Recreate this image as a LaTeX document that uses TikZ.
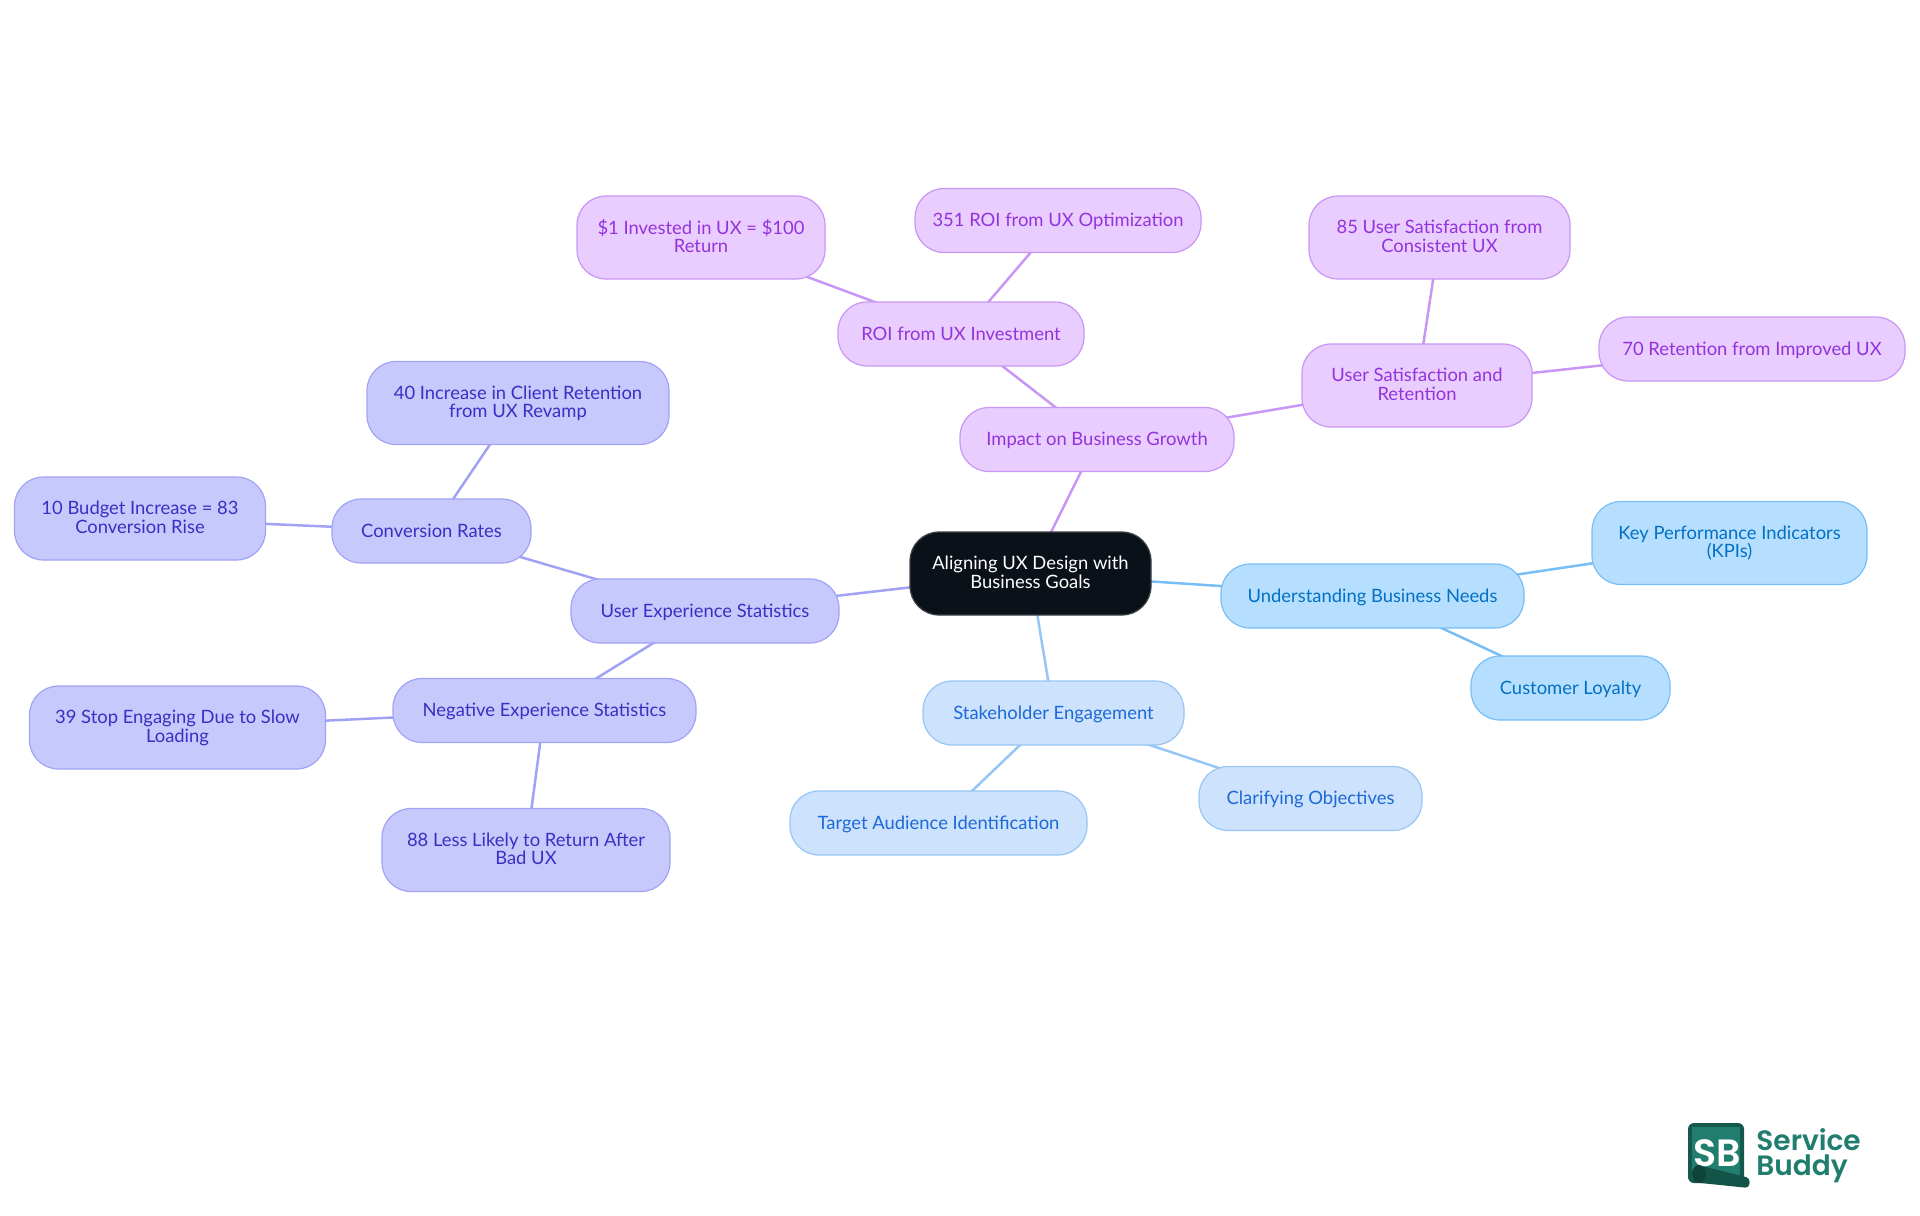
\documentclass[tikz,border=0pt]{standalone}
\usepackage{fontspec}
\setmainfont{Lato}
\newfontfamily\logofont{Poppins SemiBold}
\usepackage{xcolor}
\usetikzlibrary{backgrounds}
\definecolor{rootcolor}{RGB}{11, 17, 25}
\definecolor{statfill}{RGB}{199, 201, 253}
\definecolor{statline}{RGB}{160, 163, 245}
\definecolor{stattext}{RGB}{55, 48, 195}
\definecolor{growthfill}{RGB}{233, 205, 255}
\definecolor{growthline}{RGB}{200, 150, 245}
\definecolor{growthtext}{RGB}{147, 51, 220}
\definecolor{needsfill}{RGB}{182, 223, 255}
\definecolor{needsline}{RGB}{120, 190, 245}
\definecolor{needstext}{RGB}{3, 112, 195}
\definecolor{stakefill}{RGB}{205, 226, 252}
\definecolor{stakeline}{RGB}{150, 198, 245}
\definecolor{staketext}{RGB}{29, 105, 215}
\definecolor{logocolor}{RGB}{33, 125, 110}
\definecolor{logodark}{RGB}{20, 84, 72}
\tikzset{
    map node/.style={rectangle, rounded corners=14.5pt, draw, line width=0.6pt, align=center, inner sep=0pt, minimum height=32pt, text height=8pt, text depth=2pt, font=\fontsize{9.2}{9.35}\selectfont},
    two lines/.style={minimum height=41.5pt, text height=, text depth=1.4pt},
    root node/.style={map node, fill=rootcolor, draw=rootcolor!80!white, text=white},
    stat node/.style={map node, fill=statfill, draw=statline, text=stattext},
    growth node/.style={map node, fill=growthfill, draw=growthline, text=growthtext},
    needs node/.style={map node, fill=needsfill, draw=needsline, text=needstext},
    stake node/.style={map node, fill=stakefill, draw=stakeline, text=staketext},
    stat link/.style={line width=1.25pt, statline},
    growth link/.style={line width=1.25pt, growthline},
    needs link/.style={line width=1.25pt, needsline},
    stake link/.style={line width=1.25pt, stakeline}
}
\begin{document}
\begin{tikzpicture}[x=0.5pt, y=-0.5pt]
\useasboundingbox (0,0) rectangle (1920,1215);

\node[root node, two lines, minimum width=120.5pt] (root) at (1030.5,573.5) {Aligning UX Design with\\Business Goals};

\node[growth node, minimum width=137pt] (impact) at (1097,439.5) {Impact on Business Growth};
\node[growth node, minimum width=123pt] (roi) at (961,334) {ROI from UX Investment};
\node[growth node, two lines, minimum width=124pt] (invested) at (701,237.5) {\$1 Invested in UX = \$100\\Return};
\node[growth node, minimum width=143pt] (optimization) at (1058,220.5) {351 ROI from UX Optimization};
\node[growth node, two lines, minimum width=115pt] (satisfaction) at (1417,385.5) {User Satisfaction and\\Retention};
\node[growth node, two lines, minimum width=130.5pt] (consistent) at (1439.5,237.5) {85 User Satisfaction from\\Consistent UX};
\node[growth node, minimum width=153pt] (retention) at (1752,349) {70 Retention from Improved UX};

\node[needs node, minimum width=151.5pt] (needs) at (1372.5,596) {Understanding Business Needs};
\node[needs node, two lines, minimum width=137.5pt] (kpi) at (1729.5,543) {Key Performance Indicators\\(KPIs)};
\node[needs node, minimum width=99.5pt] (loyalty) at (1570.5,688) {Customer Loyalty};

\node[stake node, minimum width=130.5pt] (stakeholder) at (1053.5,713) {Stakeholder Engagement};
\node[stake node, minimum width=148.5pt] (audience) at (938.5,823) {Target Audience Identification};
\node[stake node, minimum width=111.5pt] (objectives) at (1310.5,798.5) {Clarifying Objectives};

\node[stat node, minimum width=134pt] (stats) at (705,611) {User Experience Statistics};
\node[stat node, minimum width=99.5pt] (conversion) at (431.5,531) {Conversion Rates};
\node[stat node, two lines, minimum width=151pt] (client) at (518,403) {40 Increase in Client Retention\\from UX Revamp};
\node[stat node, two lines, minimum width=125.5pt] (budget) at (140,518.5) {10 Budget Increase = 83\\Conversion Rise};
\node[stat node, minimum width=151.5pt] (negative) at (544.5,710.5) {Negative Experience Statistics};
\node[stat node, two lines, minimum width=148pt] (slow) at (177.5,727.5) {39 Stop Engaging Due to Slow\\Loading};
\node[stat node, two lines, minimum width=144pt] (badux) at (526,850) {88 Less Likely to Return After\\Bad UX};

\begin{scope}[on background layer]
\draw[growth link] (root.center) -- (impact.center);
\draw[growth link] (impact.center) -- (roi.center);
\draw[growth link] (roi.center) -- (invested.center);
\draw[growth link] (roi.center) -- (optimization.center);
\draw[growth link] (impact.center) -- (satisfaction.center);
\draw[growth link] (satisfaction.center) -- (consistent.center);
\draw[growth link] (satisfaction.center) -- (retention.center);
\draw[needs link] (root.center) -- (needs.center);
\draw[needs link] (needs.center) -- (kpi.center);
\draw[needs link] (needs.center) -- (loyalty.center);
\draw[stake link] (root.center) -- (stakeholder.center);
\draw[stake link] (stakeholder.center) -- (audience.center);
\draw[stake link] (stakeholder.center) -- (objectives.center);
\draw[stat link] (root.center) -- (stats.center);
\draw[stat link] (stats.center) -- (conversion.center);
\draw[stat link] (conversion.center) -- (client.center);
\draw[stat link] (conversion.center) -- (budget.center);
\draw[stat link] (stats.center) -- (negative.center);
\draw[stat link] (negative.center) -- (slow.center);
\draw[stat link] (negative.center) -- (badux.center);
\end{scope}

\fill[logodark!90!logocolor, rounded corners=3pt] (1688,1123) rectangle (1744,1183);
\fill[logocolor] (1692,1127) rectangle (1740,1179);
\node[text=white, inner sep=0pt, font=\logofont\fontsize{19}{19}\selectfont] (logosb) at (1717,1153) {SB};
\fill[logodark, rounded corners=2pt] (1700,1165.5) -- (1750,1178) -- (1749,1188) -- (1696,1182.5) -- cycle;
\fill[logodark!80!black] (1699,1174) ellipse (7 and 9);
\node[anchor=base west, text=logocolor, inner sep=0pt, font=\logofont\fontsize{14}{14}\selectfont] (logoservice) at (1756,1150) {Service};
\node[anchor=base west, text=logocolor, inner sep=0pt, font=\logofont\fontsize{14}{14}\selectfont] (logobuddy) at (1756,1175) {Buddy};
\end{tikzpicture}
\end{document}
